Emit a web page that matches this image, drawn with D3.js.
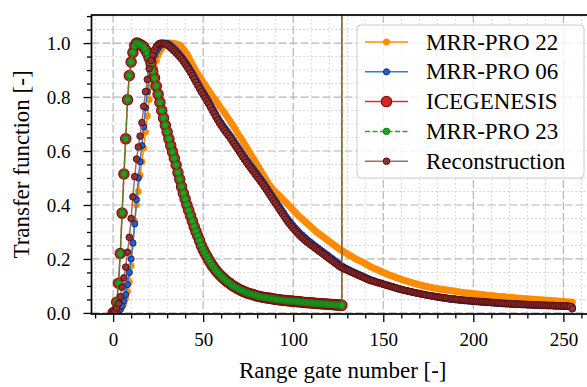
<!DOCTYPE html>
<html>
<head>
<meta charset="utf-8">
<script src="https://cdn.jsdelivr.net/npm/d3@7"></script>
<style>
body { margin: 0; background: #fff; }
svg text { font-family: "Liberation Serif", serif; fill: #000; }
</style>
</head>
<body>
<script>
// range gate values (gate index = array index)
var mrr22 = [0.000,0.000,0.003,0.008,0.015,0.024,0.035,0.055,0.080,0.115,
0.175,0.255,0.340,0.400,0.450,0.510,0.560,0.610,0.670,0.730,
0.790,0.840,0.880,0.910,0.935,0.955,0.970,0.980,0.988,0.994,
0.998,1.000,1.000,0.999,0.998,0.997,0.995,0.992,0.986,0.978,
0.969,0.960,0.948,0.935,0.922,0.910,0.898,0.886,0.875,0.865,
0.855,0.845,0.835,0.825,0.815,0.805,0.796,0.787,0.778,0.768,
0.758,0.749,0.740,0.730,0.720,0.710,0.700,0.690,0.680,0.668,
0.656,0.648,0.637,0.626,0.615,0.604,0.593,0.582,0.571,0.560,
0.549,0.538,0.527,0.516,0.505,0.494,0.483,0.472,0.464,0.456,
0.449,0.442,0.436,0.430,0.423,0.416,0.409,0.402,0.395,0.388,
0.381,0.374,0.367,0.360,0.354,0.348,0.342,0.336,0.330,0.324,
0.318,0.312,0.306,0.300,0.295,0.290,0.285,0.280,0.275,0.270,
0.265,0.260,0.255,0.250,0.245,0.240,0.235,0.231,0.227,0.223,
0.219,0.215,0.211,0.207,0.203,0.199,0.196,0.193,0.190,0.187,
0.183,0.179,0.175,0.171,0.168,0.165,0.162,0.159,0.156,0.153,
0.150,0.147,0.144,0.141,0.139,0.137,0.134,0.131,0.129,0.127,
0.124,0.122,0.120,0.118,0.116,0.114,0.112,0.110,0.108,0.106,
0.104,0.103,0.101,0.099,0.098,0.096,0.095,0.094,0.092,0.091,
0.090,0.089,0.088,0.087,0.086,0.085,0.084,0.083,0.082,0.081,
0.080,0.079,0.078,0.077,0.076,0.075,0.074,0.074,0.073,0.072,
0.071,0.071,0.070,0.069,0.068,0.068,0.067,0.066,0.065,0.065,
0.064,0.063,0.063,0.062,0.061,0.061,0.060,0.060,0.059,0.058,
0.058,0.057,0.057,0.056,0.055,0.055,0.054,0.054,0.053,0.053,
0.052,0.052,0.051,0.051,0.050,0.050,0.049,0.049,0.048,0.048,
0.047,0.047,0.046,0.046,0.045,0.045,0.044,0.044,0.043,0.043,
0.042,0.042,0.041,0.041,0.040,0.040];

var mrr06 = [0.000,0.000,0.002,0.005,0.012,0.025,0.045,0.068,0.105,0.150,
0.200,0.260,0.330,0.420,0.500,0.560,0.620,0.690,0.760,0.820,
0.870,0.910,0.935,0.955,0.970,0.980,0.990,0.995,0.999,1.000,
0.999,0.996,0.991,0.985,0.979,0.972,0.965,0.957,0.949,0.940,
0.931,0.921,0.911,0.900,0.889,0.877,0.865,0.853,0.841,0.829,
0.818,0.807,0.796,0.785,0.773,0.761,0.749,0.737,0.725,0.714,
0.704,0.694,0.685,0.676,0.667,0.658,0.648,0.638,0.628,0.618,
0.608,0.598,0.588,0.578,0.568,0.559,0.550,0.541,0.532,0.523,
0.514,0.505,0.496,0.487,0.477,0.467,0.457,0.447,0.437,0.427,
0.417,0.407,0.397,0.387,0.377,0.367,0.357,0.348,0.339,0.331,
0.323,0.315,0.308,0.301,0.294,0.288,0.282,0.276,0.270,0.265,
0.260,0.254,0.249,0.244,0.239,0.234,0.229,0.224,0.219,0.214,
0.209,0.204,0.199,0.194,0.189,0.184,0.179,0.174,0.170,0.166,
0.163,0.160,0.156,0.153,0.150,0.147,0.144,0.141,0.138,0.135,
0.132,0.129,0.126,0.123,0.121,0.119,0.116,0.114,0.112,0.110,
0.108,0.106,0.104,0.102,0.100,0.098,0.096,0.094,0.092,0.090,
0.088,0.086,0.084,0.083,0.081,0.079,0.078,0.076,0.075,0.073,
0.072,0.070,0.069,0.068,0.066,0.065,0.064,0.062,0.061,0.060,
0.058,0.057,0.056,0.055,0.054,0.053,0.052,0.051,0.050,0.050,
0.049,0.048,0.047,0.047,0.046,0.045,0.045,0.044,0.044,0.043,
0.042,0.042,0.041,0.041,0.040,0.040,0.039,0.039,0.038,0.038,
0.037,0.037,0.036,0.036,0.035,0.035,0.034,0.034,0.033,0.033,
0.033,0.032,0.032,0.032,0.031,0.031,0.031,0.030,0.030,0.030,
0.029,0.029,0.029,0.028,0.028,0.028,0.028,0.027,0.027,0.027,
0.027,0.026,0.026,0.026,0.026,0.025,0.025,0.025,0.025,0.024,
0.024,0.024,0.024,0.023,0.023,0.022];

var icegenesis = [0.000,0.005,0.040,0.110,0.220,0.370,0.515,0.645,0.790,0.880,
0.930,0.965,0.990,1.000,0.998,0.995,0.990,0.985,0.975,0.962,
0.945,0.925,0.895,0.870,0.840,0.810,0.780,0.750,0.722,0.695,
0.670,0.645,0.620,0.597,0.573,0.548,0.520,0.495,0.468,0.443,
0.422,0.400,0.380,0.360,0.340,0.320,0.302,0.285,0.268,0.250,
0.235,0.222,0.210,0.198,0.187,0.176,0.167,0.158,0.150,0.143,
0.136,0.130,0.124,0.118,0.113,0.108,0.103,0.099,0.095,0.091,
0.087,0.084,0.081,0.078,0.075,0.073,0.071,0.069,0.067,0.065,
0.063,0.061,0.060,0.058,0.057,0.056,0.055,0.054,0.053,0.052,
0.051,0.050,0.049,0.048,0.047,0.046,0.046,0.045,0.044,0.044,
0.043,0.042,0.042,0.041,0.041,0.040,0.039,0.039,0.038,0.038,
0.037,0.037,0.036,0.035,0.035,0.034,0.034,0.033,0.033,0.032,
0.032,0.031,0.031,0.030,0.030,0.029,0.029,0.028];

// MRR-PRO 23 lies exactly on top of the ICEGENESIS curve
var mrr23 = icegenesis.slice();

var recon = [0.000,0.008,0.018,0.035,0.060,0.095,0.130,0.170,0.225,0.280,
0.350,0.430,0.505,0.570,0.615,0.655,0.705,0.765,0.820,0.865,
0.905,0.935,0.958,0.975,0.987,0.995,0.999,1.000,0.999,0.997,
0.993,0.988,0.982,0.976,0.970,0.963,0.956,0.949,0.941,0.932,
0.922,0.912,0.902,0.891,0.879,0.867,0.855,0.843,0.831,0.819,
0.808,0.797,0.786,0.775,0.763,0.751,0.739,0.727,0.715,0.704,
0.694,0.684,0.675,0.666,0.657,0.648,0.638,0.628,0.618,0.608,
0.598,0.588,0.578,0.568,0.558,0.549,0.540,0.531,0.522,0.513,
0.504,0.495,0.486,0.477,0.467,0.457,0.447,0.437,0.427,0.417,
0.407,0.397,0.387,0.377,0.367,0.357,0.347,0.338,0.329,0.321,
0.313,0.305,0.298,0.291,0.284,0.278,0.272,0.266,0.261,0.256,
0.251,0.246,0.241,0.236,0.231,0.226,0.221,0.216,0.211,0.206,
0.201,0.196,0.191,0.186,0.181,0.176,0.171,0.167,0.164,0.161,
0.158,0.155,0.152,0.149,0.146,0.143,0.140,0.137,0.134,0.131,
0.128,0.125,0.122,0.120,0.118,0.116,0.114,0.112,0.110,0.108,
0.106,0.104,0.102,0.100,0.098,0.096,0.094,0.092,0.090,0.088,
0.086,0.085,0.083,0.082,0.080,0.079,0.077,0.076,0.074,0.073,
0.072,0.070,0.069,0.068,0.066,0.065,0.064,0.063,0.062,0.061,
0.060,0.059,0.058,0.057,0.056,0.055,0.054,0.053,0.052,0.052,
0.051,0.050,0.049,0.049,0.048,0.047,0.047,0.046,0.046,0.045,
0.044,0.044,0.043,0.043,0.042,0.042,0.041,0.041,0.040,0.040,
0.039,0.039,0.038,0.038,0.037,0.037,0.036,0.036,0.035,0.035,
0.035,0.034,0.034,0.034,0.033,0.033,0.033,0.032,0.032,0.032,
0.031,0.031,0.031,0.030,0.030,0.030,0.030,0.029,0.029,0.029,
0.029,0.028,0.028,0.028,0.028,0.027,0.027,0.027,0.027,0.026,
0.026,0.026,0.026,0.025,0.024,0.015];

var seriesNames = ["MRR-PRO 22", "MRR-PRO 06", "ICEGENESIS", "MRR-PRO 23", "Reconstruction"];
var xTicks = [0, 50, 100, 150, 200, 250];
var yTicks = [0.0, 0.2, 0.4, 0.6, 0.8, 1.0];
var iceLastGate = 127;

var W = 587, H = 387,
plot = {left: 91.5, top: 15, right: 594, bottom: 314},
xSc = d3.scaleLinear().domain([-12, 267]).range([plot.left, plot.right]),
ySc = d3.scaleLinear().domain([-0.004, 1.104]).range([plot.bottom, plot.top]);

var styles = [
	{values: mrr22, line: "#ff8c00", width: 1.5, dash: null, r: 3.2, fill: "#ff8c00", edge: "#ff8c00", ew: 0.6},
	{values: mrr06, line: "#2f7ed6", width: 1.5, dash: null, r: 3.1, fill: "#2160c4", edge: "#0a1f7a", ew: 0.9},
	{values: icegenesis, line: "#e8252a", width: 1.5, dash: null, r: 5.2, fill: "#d62728", edge: "#7d0d0d", ew: 1.1},
	{values: mrr23, line: "#2ca02c", width: 1.5, dash: "5,2.5", r: 3.3, fill: "#22a022", edge: "#147014", ew: 0.8},
	{values: recon, line: "#a8695f", width: 1.5, dash: null, r: 3.3, fill: "#8b3434", edge: "#5a0c0c", ew: 1}
];

var svg = d3.select("body").append("svg")
	.attr("width", W).attr("height", H);

svg.append("defs").append("clipPath").attr("id", "clip")
	.append("rect")
	.attr("x", plot.left).attr("y", plot.top)
	.attr("width", plot.right - plot.left).attr("height", plot.bottom - plot.top);

// grid
var grid = svg.append("g").attr("clip-path", "url(#clip)");
var xMinor = d3.range(-10, 270, 10).filter(function(v) { return v % 50 != 0; });
var yMinor = d3.range(1, 23).map(function(i) { return i * 0.05; }).filter(function(v, i) { return (i + 1) % 4 != 0; });

grid.selectAll(".gxm").data(xMinor).enter().append("line")
	.attr("x1", xSc).attr("x2", xSc).attr("y1", plot.top).attr("y2", plot.bottom)
	.attr("stroke", "#cfcfcf").attr("stroke-width", 1).attr("stroke-dasharray", "1.5,2.5");
grid.selectAll(".gym").data(yMinor).enter().append("line")
	.attr("y1", ySc).attr("y2", ySc).attr("x1", plot.left).attr("x2", plot.right)
	.attr("stroke", "#cfcfcf").attr("stroke-width", 1).attr("stroke-dasharray", "1.5,2.5");
grid.selectAll(".gx").data(xTicks).enter().append("line")
	.attr("x1", xSc).attr("x2", xSc).attr("y1", plot.top).attr("y2", plot.bottom)
	.attr("stroke", "#b5b5b5").attr("stroke-width", 1.2).attr("stroke-dasharray", "8,3");
grid.selectAll(".gy").data(yTicks).enter().append("line")
	.attr("y1", ySc).attr("y2", ySc).attr("x1", plot.left).attr("x2", plot.right)
	.attr("stroke", "#b5b5b5").attr("stroke-width", 1.2).attr("stroke-dasharray", "8,3");

// curves
var chart = svg.append("g").attr("clip-path", "url(#clip)");
var line = d3.line().x(function(d, i) { return xSc(i); }).y(function(d) { return ySc(d); });

styles.forEach(function(s, k) {
	var g = chart.append("g");
	g.append("path")
		.attr("d", line(s.values))
		.attr("fill", "none")
		.attr("stroke", s.line)
		.attr("stroke-width", s.width)
		.attr("stroke-dasharray", s.dash);
	// ICEGENESIS / MRR-PRO 23 jump off the top at the last gate
	if (k == 2 || k == 3) {
		g.append("line")
			.attr("x1", xSc(iceLastGate)).attr("x2", xSc(iceLastGate))
			.attr("y1", ySc(s.values[iceLastGate])).attr("y2", plot.top)
			.attr("stroke", s.line).attr("stroke-width", s.width)
			.attr("stroke-dasharray", s.dash);
	}
	g.selectAll("circle").data(s.values).enter().append("circle")
		.attr("cx", function(d, i) { return xSc(i); })
		.attr("cy", function(d) { return ySc(d); })
		.attr("r", s.r)
		.attr("fill", s.fill)
		.attr("stroke", s.edge)
		.attr("stroke-width", s.ew);
});

// axes
var xAxis = svg.append("g").attr("transform", "translate(0," + plot.bottom + ")")
	.call(d3.axisBottom(xSc).tickValues(xTicks).tickSize(8).tickPadding(11).tickSizeOuter(0));
var xAxisMinor = svg.append("g").attr("transform", "translate(0," + plot.bottom + ")")
	.call(d3.axisBottom(xSc).tickValues(xMinor.filter(function(v) { return v > -12; })).tickSize(4.5).tickFormat("").tickSizeOuter(0));
var yAxis = svg.append("g").attr("transform", "translate(" + plot.left + ",0)")
	.call(d3.axisLeft(ySc).tickValues(yTicks).tickSize(8).tickPadding(13).tickFormat(d3.format(".1f")).tickSizeOuter(0));
var yAxisMinor = svg.append("g").attr("transform", "translate(" + plot.left + ",0)")
	.call(d3.axisLeft(ySc).tickValues(yMinor).tickSize(4.5).tickFormat("").tickSizeOuter(0));

[xAxis, xAxisMinor, yAxis, yAxisMinor].forEach(function(a) {
	a.attr("font-family", null);
	a.select(".domain").remove();
	a.selectAll(".tick line").attr("stroke", "#000").attr("stroke-width", 1.3);
	a.selectAll("text").attr("font-size", 19).attr("fill", "#000");
});

// spines
svg.append("rect")
	.attr("x", plot.left).attr("y", plot.top)
	.attr("width", plot.right - plot.left).attr("height", plot.bottom - plot.top)
	.attr("fill", "none").attr("stroke", "#000").attr("stroke-width", 1.7);

svg.append("text")
	.attr("x", (plot.left + plot.right) / 2).attr("y", 378)
	.attr("text-anchor", "middle").attr("font-size", 23)
	.text("Range gate number [-]");

svg.append("text")
	.attr("transform", "translate(29," + (plot.top + plot.bottom) / 2 + ") rotate(-90)")
	.attr("text-anchor", "middle").attr("font-size", 23)
	.text("Transfer function [-]");

// legend
var legend = svg.append("g").attr("transform", "translate(357,25)");
legend.append("rect")
	.attr("width", 227).attr("height", 153).attr("rx", 4)
	.attr("fill", "#fff").attr("fill-opacity", 0.8)
	.attr("stroke", "#cccccc").attr("stroke-width", 1);

var rows = legend.selectAll(".row").data(styles).enter().append("g")
	.attr("transform", function(d, i) { return "translate(0," + (17 + i * 29.8) + ")"; });
rows.append("line")
	.attr("x1", 8).attr("x2", 51)
	.attr("stroke", function(d) { return d.line; })
	.attr("stroke-width", function(d) { return d.width; })
	.attr("stroke-dasharray", function(d) { return d.dash; });
rows.append("circle")
	.attr("cx", 29.5).attr("r", function(d) { return d.r; })
	.attr("fill", function(d) { return d.fill; })
	.attr("stroke", function(d) { return d.edge; })
	.attr("stroke-width", function(d) { return d.ew; });
rows.append("text")
	.attr("x", 69).attr("y", 7.5).attr("font-size", 23)
	.text(function(d, i) { return seriesNames[i]; });
</script>
</body>
</html>
